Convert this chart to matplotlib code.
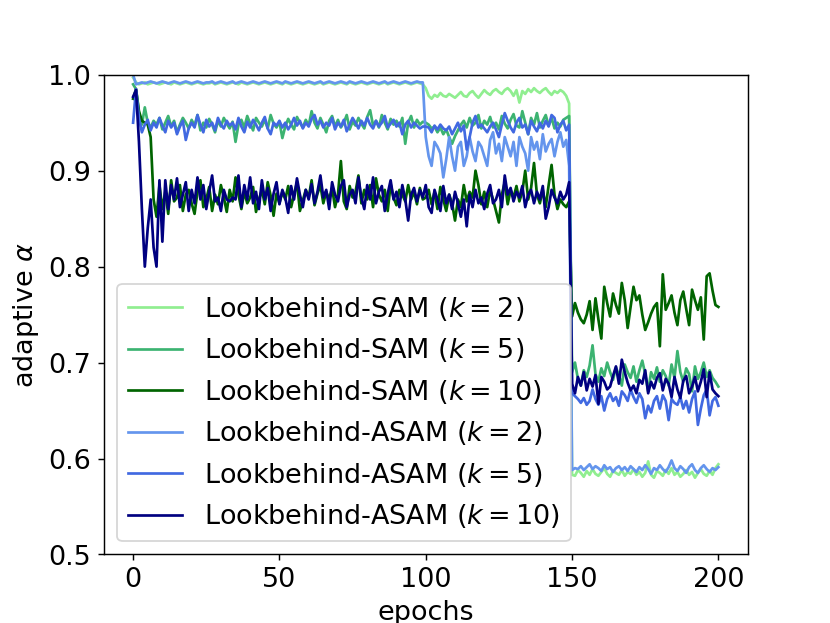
import numpy as np
import matplotlib
matplotlib.use("Agg")
import matplotlib.pyplot as plt

labels = [
    r"Lookbehind-SAM ($k=2$)",
    r"Lookbehind-SAM ($k=5$)",
    r"Lookbehind-SAM ($k=10$)",
    r"Lookbehind-ASAM ($k=2$)",
    r"Lookbehind-ASAM ($k=5$)",
    r"Lookbehind-ASAM ($k=10$)",
]
colors = ["lightgreen", "mediumseagreen", "darkgreen",
          "cornflowerblue", "royalblue", "navy"]

sam_k2 = [
    .997,.992,.990,.991,.992,.990,.991,.992,.991,.990,
    .991,.992,.991,.990,.992,.991,.990,.991,.992,.991,
    .990,.991,.992,.991,.990,.991,.991,.992,.990,.991,
    .992,.991,.990,.991,.992,.991,.990,.992,.991,.990,
    .991,.992,.991,.990,.991,.992,.991,.990,.991,.992,
    .991,.990,.992,.991,.990,.991,.992,.991,.990,.991,
    .992,.991,.990,.991,.992,.990,.991,.992,.991,.990,
    .991,.992,.991,.990,.992,.991,.990,.991,.992,.991,
    .990,.991,.992,.991,.990,.991,.992,.990,.991,.992,
    .991,.990,.991,.992,.991,.990,.991,.992,.991,.990,
    .986,.978,.975,.979,.977,.981,.978,.977,.980,.978,
    .976,.979,.982,.978,.977,.981,.983,.979,.976,.980,
    .984,.981,.979,.983,.985,.982,.980,.984,.986,.983,
    .978,.984,.971,.983,.980,.985,.982,.986,.983,.981,
    .984,.986,.982,.979,.983,.981,.984,.982,.978,.970,
    .583,.582,.588,.585,.581,.587,.583,.589,.584,.582,
    .586,.590,.584,.581,.587,.585,.583,.588,.582,.586,
    .584,.589,.583,.586,.581,.585,.597,.583,.580,.587,
    .585,.582,.588,.584,.590,.583,.586,.581,.584,.588,
    .583,.586,.580,.585,.589,.584,.582,.587,.583,.590,
    .594,
]

sam_k5 = [
    .990,.985,.960,.948,.966,.950,.945,.952,.948,.955,
    .943,.950,.957,.946,.952,.940,.948,.955,.950,.944,
    .953,.947,.958,.942,.950,.945,.954,.948,.940,.952,
    .946,.955,.949,.944,.951,.930,.948,.953,.945,.957,
    .949,.942,.955,.950,.946,.953,.944,.958,.949,.945,
    .951,.934,.946,.954,.948,.943,.956,.950,.945,.953,
    .947,.962,.950,.944,.955,.948,.940,.952,.957,.946,
    .953,.945,.950,.958,.943,.951,.947,.955,.949,.944,
    .956,.963,.947,.952,.945,.958,.950,.943,.954,.948,
    .952,.946,.955,.928,.950,.957,.945,.953,.948,.951,
    .950,.948,.944,.946,.940,.945,.938,.943,.935,.928,
    .936,.942,.948,.952,.945,.955,.947,.950,.958,.944,
    .952,.948,.956,.945,.950,.943,.957,.949,.944,.953,
    .959,.947,.945,.962,.950,.938,.955,.948,.960,.945,
    .952,.958,.947,.955,.944,.950,.946,.953,.955,.957,
    .690,.700,.683,.676,.692,.685,.697,.718,.688,.680,
    .694,.686,.700,.690,.682,.695,.687,.676,.698,.690,
    .684,.696,.680,.692,.702,.688,.670,.690,.683,.695,
    .680,.692,.686,.676,.698,.684,.712,.690,.680,.694,
    .688,.670,.696,.683,.690,.700,.685,.692,.684,.680,
    .675,
]

sam_k10 = [
    .975,.985,.962,.952,.950,.948,.935,.870,.852,.885,
    .860,.878,.855,.890,.868,.872,.885,.858,.875,.880,
    .866,.855,.878,.890,.862,.870,.883,.858,.875,.865,
    .885,.872,.857,.880,.868,.893,.875,.860,.878,.866,
    .872,.883,.857,.870,.880,.865,.888,.874,.853,.876,
    .866,.878,.870,.884,.862,.875,.888,.858,.869,.880,
    .872,.890,.864,.876,.885,.866,.878,.870,.882,.862,
    .875,.910,.868,.860,.884,.872,.878,.895,.866,.880,
    .870,.885,.862,.892,.875,.868,.880,.858,.886,.872,
    .864,.880,.875,.868,.885,.870,.878,.865,.882,.870,
    .872,.880,.865,.878,.860,.883,.870,.858,.875,.866,
    .848,.870,.862,.885,.868,.878,.872,.900,.885,.865,
    .878,.862,.880,.870,.858,.846,.875,.888,.865,.880,
    .872,.884,.868,.878,.900,.870,.882,.908,.875,.866,
    .880,.862,.885,.906,.875,.860,.870,.865,.862,.868,
    .748,.762,.752,.745,.741,.750,.764,.734,.767,.745,
    .725,.779,.762,.748,.772,.760,.751,.783,.765,.736,
    .758,.779,.765,.770,.750,.734,.742,.751,.758,.762,
    .717,.792,.755,.762,.770,.752,.739,.765,.774,.756,
    .739,.776,.765,.755,.768,.724,.790,.793,.775,.760,
    .758,
]

asam_k2 = [
    1.000,.990,.991,.992,.991,.992,.993,.992,.991,.992,
    .993,.992,.991,.992,.993,.992,.991,.992,.993,.992,
    .991,.992,.993,.992,.991,.992,.992,.993,.991,.992,
    .993,.992,.991,.992,.993,.991,.992,.993,.992,.991,
    .992,.993,.992,.991,.992,.993,.992,.991,.992,.993,
    .992,.991,.993,.992,.991,.992,.993,.992,.991,.992,
    .993,.992,.991,.992,.993,.991,.992,.993,.992,.991,
    .992,.993,.992,.991,.993,.992,.991,.992,.993,.992,
    .991,.992,.993,.992,.991,.992,.993,.991,.992,.993,
    .992,.991,.992,.993,.992,.991,.992,.993,.992,.992,
    .935,.915,.905,.930,.925,.918,.893,.912,.935,.915,
    .900,.925,.930,.905,.915,.935,.920,.910,.930,.925,
    .915,.905,.932,.940,.918,.928,.910,.935,.925,.915,
    .930,.905,.935,.925,.918,.900,.935,.922,.930,.912,
    .938,.920,.928,.933,.915,.930,.940,.925,.932,.905,
    .588,.590,.589,.592,.588,.591,.594,.589,.592,.590,
    .587,.593,.589,.591,.586,.590,.592,.588,.591,.587,
    .592,.589,.586,.591,.588,.593,.589,.584,.590,.588,
    .593,.589,.586,.591,.598,.590,.587,.592,.589,.585,
    .591,.594,.588,.585,.590,.593,.589,.586,.590,.588,
    .591,
]

asam_k5 = [
    .950,.985,.955,.940,.948,.953,.942,.950,.945,.955,
    .947,.940,.952,.945,.950,.938,.946,.952,.932,.944,
    .950,.945,.958,.948,.940,.953,.946,.950,.942,.955,
    .948,.944,.952,.947,.950,.943,.955,.946,.940,.951,
    .945,.953,.948,.942,.950,.956,.944,.938,.950,.947,
    .952,.945,.950,.943,.948,.955,.947,.952,.944,.950,
    .946,.954,.958,.948,.952,.945,.950,.947,.955,.943,
    .950,.946,.953,.941,.948,.955,.950,.944,.952,.947,
    .955,.948,.944,.952,.946,.950,.957,.945,.949,.953,
    .946,.950,.938,.948,.952,.945,.950,.947,.944,.946,
    .946,.945,.940,.947,.943,.948,.944,.942,.946,.938,
    .944,.950,.941,.947,.922,.935,.950,.957,.945,.948,
    .944,.940,.946,.950,.943,.935,.948,.960,.952,.945,
    .940,.950,.955,.945,.948,.938,.952,.946,.941,.950,
    .944,.952,.946,.958,.955,.940,.948,.952,.942,.948,
    .668,.665,.662,.658,.663,.656,.660,.672,.662,.656,
    .665,.650,.662,.668,.660,.664,.655,.670,.666,.660,
    .672,.664,.658,.668,.662,.642,.655,.648,.660,.665,
    .652,.666,.660,.640,.662,.658,.656,.664,.652,.660,
    .648,.662,.670,.635,.652,.666,.672,.645,.660,.664,
    .655,
]

asam_k10 = [
    .977,.984,.930,.860,.800,.840,.870,.820,.800,.890,
    .826,.890,.860,.885,.870,.892,.862,.875,.888,.858,
    .880,.866,.893,.870,.885,.860,.878,.895,.868,.872,
    .858,.880,.870,.868,.872,.870,.895,.862,.885,.870,
    .893,.866,.878,.860,.890,.870,.882,.858,.876,.888,
    .865,.880,.872,.856,.884,.870,.892,.875,.862,.880,
    .870,.886,.866,.878,.895,.872,.880,.860,.888,.875,
    .868,.884,.890,.862,.875,.880,.866,.893,.872,.860,
    .885,.870,.893,.866,.878,.884,.858,.876,.890,.870,
    .878,.862,.885,.870,.848,.875,.882,.868,.880,.872,
    .885,.862,.856,.880,.870,.858,.884,.866,.875,.860,
    .878,.866,.852,.870,.842,.875,.862,.880,.866,.872,
    .860,.876,.885,.866,.870,.880,.862,.895,.875,.882,
    .868,.878,.872,.884,.862,.875,.880,.866,.878,.870,
    .884,.850,.862,.880,.872,.866,.878,.870,.875,.888,
    .678,.668,.685,.676,.690,.671,.683,.675,.687,.657,
    .685,.680,.672,.675,.686,.696,.678,.703,.690,.679,
    .671,.676,.668,.682,.678,.692,.668,.680,.673,.684,
    .689,.671,.683,.678,.664,.685,.672,.663,.681,.686,
    .668,.675,.685,.670,.680,.693,.664,.690,.672,.668,
    .665,
]

series = [sam_k2, sam_k5, sam_k10, asam_k2, asam_k5, asam_k10]

plt.rcParams["font.size"] = 15
fig, ax = plt.subplots(figsize=(6.4, 4.8), dpi=129.8)
for vals, lab, col in zip(series, labels, colors):
    ax.plot(np.arange(len(vals)), vals, color=col, label=lab)

ax.set_ylim(0.5, 1.0)
ax.set_xticks([0, 50, 100, 150, 200])
ax.set_xlabel("epochs")
ax.set_ylabel(r"adaptive $\alpha$")
ax.legend(loc="lower left")
fig.savefig("out.png", dpi=129.8)
